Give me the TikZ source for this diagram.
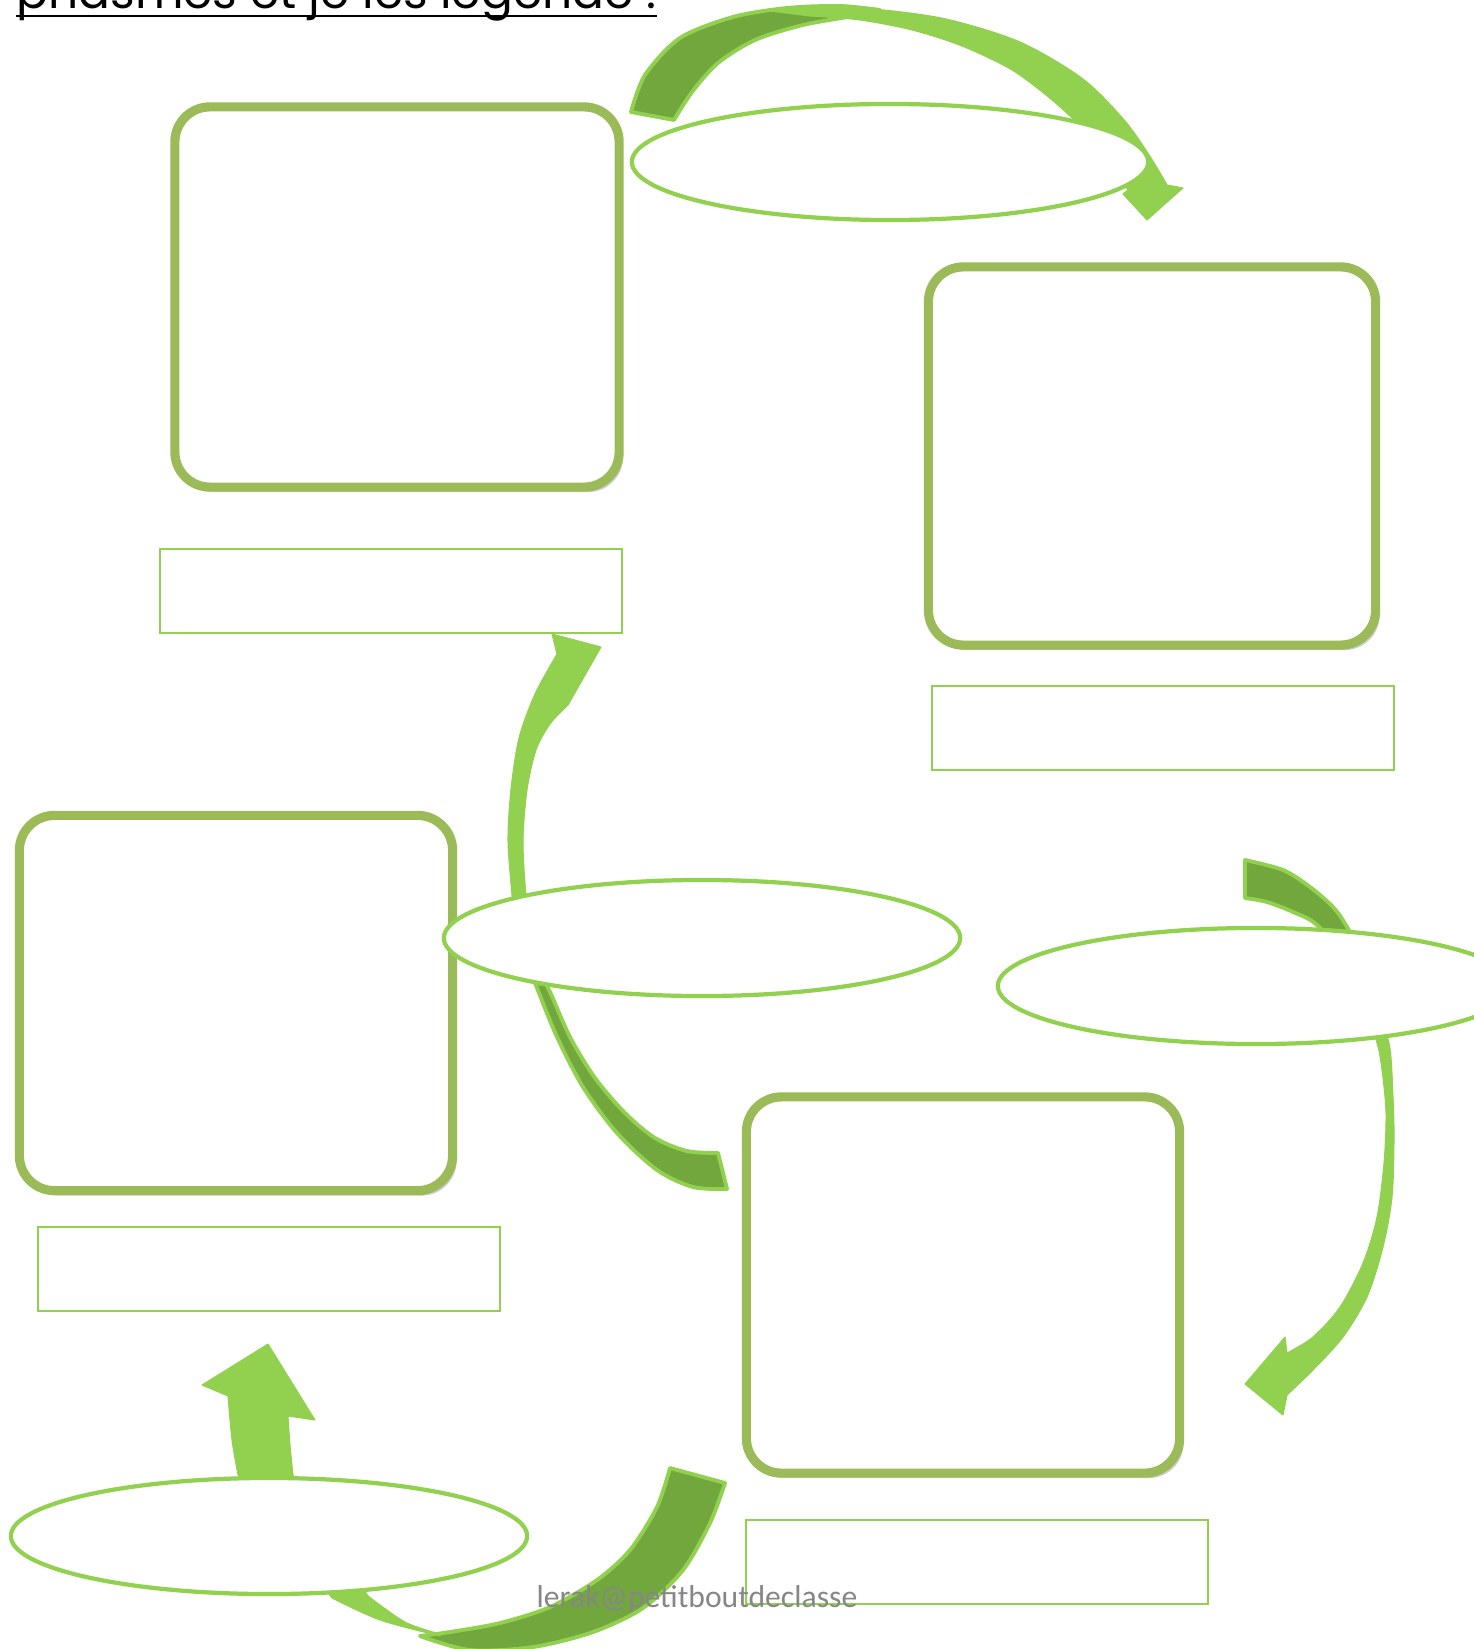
\documentclass[tikz,border=0pt]{standalone}
\usepackage{fontspec}
\setmainfont{Carlito}
\newfontfamily\titrefont{Poppins}
\usetikzlibrary{shapes.geometric,shadows}

\definecolor{vertolive}{RGB}{155,187,89}
\definecolor{vertclair}{RGB}{146,208,80}
\definecolor{vertfonce}{RGB}{114,167,62}
\definecolor{gristexte}{RGB}{134,134,134}

\tikzset{
  cadre/.style={draw=vertolive, line width=2.6pt, rounded corners=3.5mm, fill=white,
    drop shadow={shadow xshift=0.4mm, shadow yshift=-0.5mm, fill=black, opacity=0.2}},
  legende/.style={draw=vertclair, line width=0.6pt, minimum width=4.62cm, minimum height=0.84cm, inner sep=0pt},
  bulle/.style={ellipse, draw=vertclair, line width=1.2pt, fill=white, minimum width=5.16cm, minimum height=1.16cm, inner sep=0pt},
  dos/.style={fill=vertfonce, draw=vertclair, line width=1.1pt, line join=round},
  face/.style={fill=vertclair, draw=vertclair, line width=0.3pt, line join=round}
}

\begin{document}
\begin{tikzpicture}[x=0.01cm, y=-0.01cm]
    \useasboundingbox (0,0) rectangle (1473,1649);

    % Titre (coupe en haut)
    \node[anchor=base west, inner sep=0pt, font=\titrefont] (titre) at (16,9)
        {\resizebox{6.39cm}{!}{phasmes et je les légende :}};
    \draw[line width=0.75pt] ([yshift=-0.7mm]titre.base west) -- ([yshift=-0.7mm]titre.base east);

    % Cadres pour les dessins
    \node[cadre, minimum width=4.44cm, minimum height=3.80cm] (cadre1) at (397,297) {};
    \node[cadre, minimum width=4.47cm, minimum height=3.78cm] (cadre2) at (1152,456) {};
    \node[cadre, minimum width=4.33cm, minimum height=3.75cm] (cadre3) at (236,1003) {};
    \node[cadre, minimum width=4.33cm, minimum height=3.76cm] (cadre4) at (963,1285) {};

    % Cases des legendes
    \node[legende] (legende1) at (391,591) {};
    \node[legende] (legende2) at (1163,728) {};
    \node[legende] (legende3) at (269,1269) {};
    \node[legende] (legende4) at (977,1562) {};

    % Fleche du haut
    \filldraw[dos] plot[smooth] coordinates {(631,112) (645,75) (680,38) (733,17) (787,8) (840,6) (880,10)}
        -- plot[smooth] coordinates {(880,10) (853,16) (803,25) (755,40) (718,63) (692,92) (674,120)} -- cycle;
    \filldraw[face] plot[smooth] coordinates {(770,11) (810,7) (873,9) (946,19) (1020,42) (1083,79) (1125,121) (1151,158) (1167,185)}
        -- (1183,188) -- (1147,220) -- (1123,194)
        -- plot[smooth] coordinates {(1128,190) (1108,162) (1084,130) (1052,100) (1012,70) (962,46) (912,30) (860,20) (810,16)} -- cycle;
    \node[bulle] (bulle1) at (890,162) {};

    % Fleche du milieu gauche
    \filldraw[dos] plot[smooth] coordinates {(530,970) (537,988) (557,1037) (583,1087) (617,1133) (657,1170) (693,1187) (727,1189)}
        -- plot[smooth] coordinates {(718,1153) (687,1151) (655,1138) (625,1113) (595,1078) (570,1037) (550,992) (538,970)} -- cycle;
    \filldraw[face] plot[smooth] coordinates {(537,985) (515,940) (512,896) (508,841) (511,789) (519,738) (535,694) (557,654)}
        -- (552,634) -- (601,647) -- (568,705)
        -- plot[smooth] coordinates {(568,705) (550,724) (536,750) (527,790) (523,841) (526,896) (532,940) (547,985)} -- cycle;
    \node[bulle] (bulle2) at (702,938) {};

    % Fleche de droite
    \filldraw[dos] plot[smooth] coordinates {(1245,860) (1283,870) (1310,887) (1333,907) (1347,927) (1370,970) (1382,1020) (1386,1056)}
        -- plot[smooth] coordinates {(1384,1056) (1372,1010) (1350,965) (1317,925) (1293,912) (1267,902) (1245,898)} -- cycle;
    \filldraw[face] plot[smooth] coordinates {(1372,1000) (1389,1043) (1393,1097) (1394,1140) (1392,1197) (1383,1247) (1367,1297) (1343,1337) (1313,1370) (1287,1395)}
        -- (1283,1415) -- (1245,1384) -- (1285,1337)
        -- plot[smooth] coordinates {(1287,1353) (1313,1337) (1340,1307) (1363,1263) (1377,1217) (1384,1163) (1386,1113) (1382,1070) (1377,1043) (1362,1000)} -- cycle;
    \node[bulle] (bulle3) at (1256,986) {};

    % Fleche du bas
    \filldraw[dos] plot[smooth] coordinates {(670,1468) (657,1507) (630,1550) (597,1580) (550,1607) (500,1623) (450,1632) (420,1636)}
        -- plot[smooth] coordinates {(420,1636) (470,1650) (533,1647) (593,1632) (643,1608) (683,1570) (710,1523) (725,1483)} -- cycle;
    \filldraw[face] plot[smooth] coordinates {(440,1636) (380,1620) (332,1598)}
        -- (238,1475) -- plot[smooth] coordinates {(238,1475) (232,1440) (228,1396)}
        -- (202,1385) -- (268,1344) -- (315,1420)
        -- plot[smooth] coordinates {(288,1416) (290,1445) (293,1475)}
        -- (368,1596) -- plot[smooth] coordinates {(368,1596) (405,1622) (440,1634)} -- cycle;
    \node[bulle] (bulle4) at (269,1536) {};

    % Signature
    \node[anchor=base west, inner sep=0pt, text=gristexte, font=\fontsize{9}{9}\selectfont] (signature) at (536,1607)
        {lerak@petitboutdeclasse};
\end{tikzpicture}
\end{document}
